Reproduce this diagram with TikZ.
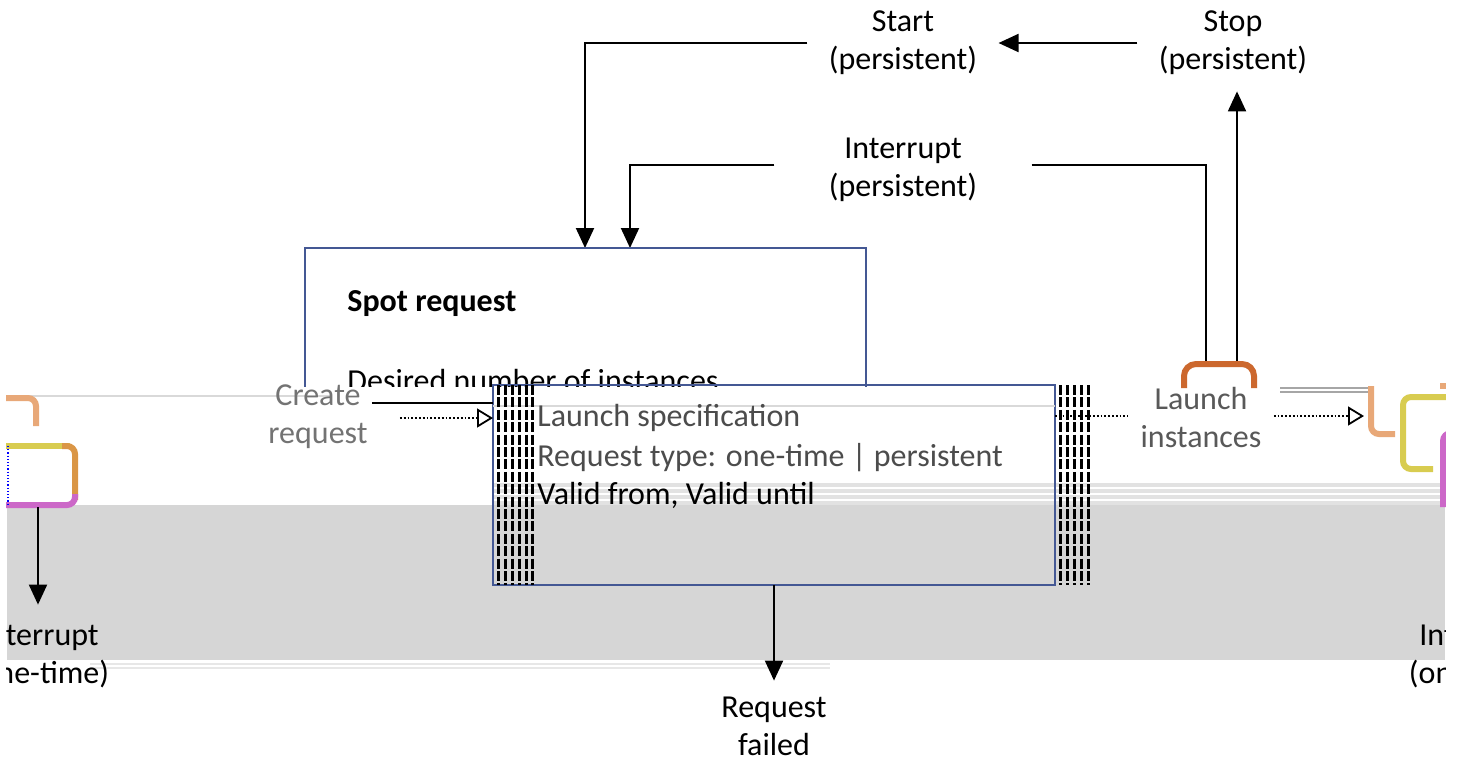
\documentclass[tikz,border=0pt]{standalone}
\usepackage{fontspec}
\setmainfont{Carlito}
\usetikzlibrary{arrows.meta}
\definecolor{boxblue}{RGB}{68,88,148}
\definecolor{orangeb}{RGB}{204,104,46}
\definecolor{band}{RGB}{214,214,214}
\definecolor{peach}{RGB}{232,168,120}
\definecolor{yel}{RGB}{216,204,80}
\definecolor{ora}{RGB}{218,150,70}
\definecolor{mag}{RGB}{204,104,200}
\begin{document}
\begin{tikzpicture}[x=0.5pt,y=-0.5pt,
  every node/.style={font=\fontsize{16}{19}\selectfont, text=black},
  lbl/.style={align=center, inner ysep=0pt, inner xsep=10.5pt},
  txt/.style={anchor=base west, inner sep=0pt},
  ln/.style={line width=1pt, black},
  arr/.style={ln, -{Triangle[length=10pt,width=9pt]}},
  dotarr/.style={line width=0.9pt, densely dotted, -{Triangle[open,length=8pt,width=9.5pt]}},
  glitch/.style={line width=3pt, rounded corners=4pt},
  stripe/.style={line width=1.5pt, dash pattern=on 5pt off 1.2pt}]
\useasboundingbox[fill=white] (0,0) rectangle (1465,757);

% ---- upper part
\node[lbl] (start) at (903,43) {Start\\(persistent)};
\node[lbl, minimum height=48pt] (stop) at (1233,43) {Stop\\(persistent)};
\node[lbl, inner xsep=27pt] (intp) at (903,170) {Interrupt\\(persistent)};
\coordinate (in1) at (585,248);
\coordinate (in2) at (630,248);
\coordinate (brL) at (1206,361);
\coordinate (brR) at (1237,361);
\draw[arr] (stop.west) -- (start.east);
\draw[arr] (start.west) -| (in1);
\draw[arr] ([yshift=2.5pt]intp.west) -| (in2);
\draw[ln] ([yshift=2.5pt]intp.east) -| (brL);
\draw[arr] (brR) -- (brR |- stop.south);

\draw[boxblue, line width=1.1pt] (305,392) -- (305,248) -- (866,248) -- (866,392);
\node[txt, font=\fontsize{16}{19}\selectfont\bfseries] (title) at (347,311) {Spot request};
\node[txt] (desired) at (347,391) {Desired number of instances};

% ---- glitch bands
\fill[white] (0,387) rectangle (1465,505);
\draw[black!15, line width=0.6pt] (0,396) -- (330,396);
\fill[band] (7,505) rectangle (1445,660);
\fill[band!70] (493,483) rectangle (1445,505);
\foreach \y in {488,494,500} \draw[white, line width=0.6pt] (493,\y) -- (1445,\y);
\draw[band!60, line width=1.2pt] (90,664) -- (830,664);
\draw[band!60, line width=1.2pt] (90,668) -- (830,668);

% ---- shifted lower part of the request box
\node[draw=boxblue, line width=0.8pt, minimum width=281pt, minimum height=100pt,
      inner sep=0pt, outer sep=0pt, anchor=north west] (spec) at (493,385) {};
\draw[black!15, line width=0.6pt] (493,406) -- (1055,406);
\node[txt, text=black!70] (launch) at (537,426) {Launch specification};
\node[txt, text=black!70] (rtype) at (537,466) {Request type: one-time | persistent};
\node[txt] (valid) at (537,504) {Valid from, Valid until};
\foreach \x in {498,505,512,519,526,532} \draw[stripe] (\x,385) -- (\x,585);
\foreach \x in {1060,1067,1074,1081,1088} \draw[stripe] (\x,385) -- (\x,585);

% ---- create request
\node[lbl, text=black!55, inner xsep=2pt] (create) at (318,417) {Create\\request};
\coordinate (cl) at ([yshift=-9pt]spec.north west);
\coordinate (ca) at ([yshift=-16.5pt]spec.north west);
\draw[line width=0.8pt] (create.east |- cl) -- (cl);
\draw[dotarr] ([xshift=14pt]create.east |- ca) -- (ca);

% ---- launch instances
\node[lbl, text=black!65, inner xsep=6pt] (linst) at (1201,417) {Launch\\instances};
\coordinate (la) at (1364,416);
\draw[line width=0.9pt, densely dotted] ([yshift=-15.5pt]spec.north east) -- (linst.west |- la);
\draw[dotarr] (linst.east |- la) -- (la);
\draw[black!35, line width=0.8pt] (1280,388) -- (1368,388);
\draw[black!35, line width=0.8pt] (1280,392) -- (1368,392);
\draw[orangeb, line width=3pt, rounded corners=6pt] (1184,388) -- (1184,364) -- (1254,364) -- (1254,388);

% ---- left glitch shapes
\draw[peach, glitch] (5,398) -- (36,398) -- (36,426);
\draw[yel, line width=3pt] (5,446) -- (70,446);
\draw[ora, glitch] (62,446) -- (75,446) -- (75,500);
\draw[mag, glitch] (75,494) -- (75,505) -- (5,505);
\draw[blue, densely dotted, line width=0.6pt] (8,446) -- (8,505);
\coordinate (lb) at (38,507);
\node[lbl, minimum height=51pt] (iol) at (40,656) {Interrupt\\(one-time)};
\draw[arr] (lb) -- (lb |- iol.north);

% ---- right glitch shapes
\draw[peach, glitch] (1371,386) -- (1371,434) -- (1395,434);
\draw[yel, glitch] (1446,397) -- (1403,397) -- (1403,469) -- (1433,469);
\draw[mag, glitch] (1446,433) -- (1443,433) -- (1443,507);
\draw[peach, line width=3pt] (1440,386) -- (1446,386);
\node[lbl, minimum height=51pt] (ior) at (1478,656) {Interrupt\\(one-time)};

% ---- request failed
\node[lbl, minimum height=45pt] (rf) at (774,726) {Request\\failed};
\draw[arr] (spec.south) -- (spec.south |- rf.north);

% ---- clipped edges
\fill[white] (0,380) rectangle (6,757);
\fill[white] (1446,380) rectangle (1465,757);
\end{tikzpicture}
\end{document}
